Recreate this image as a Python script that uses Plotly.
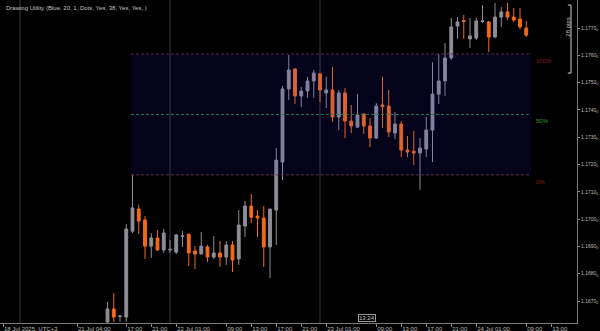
import plotly.graph_objects as go

# hours since 21 Jul 2025 00:00 (UTC+3)
hours = list(range(14, 82))
opens = [1.16623, 1.16671, 1.16643, 1.16641, 1.16956, 1.17037, 1.16997, 1.16901, 1.16931, 1.16887,
         1.16887, 1.16879, 1.16936, 1.16945, 1.16883, 1.16872, 1.16898, 1.16861, 1.16876, 1.16861,
         1.16905, 1.16854, 1.16975, 1.17048, 1.17011, 1.17004, 1.16898, 1.17033, 1.17209, 1.17477,
         1.17550, 1.17451, 1.17469, 1.17506, 1.17532, 1.17462, 1.17473, 1.17374, 1.17462, 1.17359,
         1.17337, 1.17385, 1.17341, 1.17297, 1.17418, 1.17414, 1.17315, 1.17348, 1.17253, 1.17249,
         1.17242, 1.17257, 1.17326, 1.17458, 1.17506, 1.17590, 1.17707, 1.17727, 1.17660, 1.17663,
         1.17724, 1.17722, 1.17667, 1.17740, 1.17759, 1.17740, 1.17733, 1.17700]
highs = [1.16696, 1.16729, 1.16649, 1.16982, 1.17162, 1.17052, 1.17011, 1.16949, 1.16960, 1.16964,
         1.16923, 1.16945, 1.16956, 1.16945, 1.16901, 1.16953, 1.16905, 1.16938, 1.16920, 1.16920,
         1.16920, 1.17033, 1.17066, 1.17092, 1.17033, 1.17048, 1.17037, 1.17260, 1.17488, 1.17601,
         1.17553, 1.17484, 1.17521, 1.17546, 1.17535, 1.17521, 1.17557, 1.17473, 1.17480, 1.17418,
         1.17458, 1.17389, 1.17370, 1.17425, 1.17521, 1.17473, 1.17392, 1.17359, 1.17304, 1.17323,
         1.17297, 1.17374, 1.17575, 1.17605, 1.17645, 1.17737, 1.17740, 1.17748, 1.17737, 1.17737,
         1.17784, 1.17726, 1.17792, 1.17777, 1.17792, 1.17773, 1.17773, 1.17726]
lows = [1.16620, 1.16623, 1.16623, 1.16623, 1.16949, 1.16945, 1.16854, 1.16858, 1.16884, 1.16876,
        1.16876, 1.16872, 1.16898, 1.16828, 1.16817, 1.16872, 1.16843, 1.16854, 1.16825, 1.16832,
        1.16806, 1.16832, 1.16934, 1.16986, 1.16934, 1.16825, 1.16784, 1.16905, 1.17143, 1.17436,
        1.17422, 1.17411, 1.17444, 1.17444, 1.17429, 1.17407, 1.17356, 1.17326, 1.17297, 1.17315,
        1.17334, 1.17312, 1.17264, 1.17293, 1.17334, 1.17301, 1.17293, 1.17227, 1.17227, 1.17198,
        1.17107, 1.17227, 1.17209, 1.17422, 1.17451, 1.17583, 1.17660, 1.17660, 1.17627, 1.17656,
        1.17718, 1.17612, 1.17663, 1.17704, 1.17729, 1.17722, 1.17696, 1.17667]
closes = [1.16671, 1.16641, 1.16645, 1.16964, 1.17041, 1.16993, 1.16901, 1.16931, 1.16887, 1.16949,
          1.16889, 1.16942, 1.16938, 1.16876, 1.16872, 1.16901, 1.16861, 1.16876, 1.16861, 1.16905,
          1.16850, 1.16978, 1.17048, 1.17007, 1.17004, 1.16898, 1.17037, 1.17216, 1.17477, 1.17546,
          1.17451, 1.17469, 1.17506, 1.17535, 1.17473, 1.17473, 1.17374, 1.17462, 1.17359, 1.17341,
          1.17381, 1.17341, 1.17297, 1.17414, 1.17412, 1.17319, 1.17348, 1.17253, 1.17246, 1.17242,
          1.17260, 1.17326, 1.17458, 1.17506, 1.17590, 1.17704, 1.17722, 1.17724, 1.17671, 1.17726,
          1.17726, 1.17667, 1.17740, 1.17759, 1.17740, 1.17729, 1.17704, 1.17674]

y_ticks = [1.167, 1.168, 1.169, 1.170, 1.171, 1.172, 1.173, 1.174, 1.175, 1.176, 1.177]
y_ticktext = ["1.1670<sub>0</sub>", "1.1680<sub>0</sub>", "1.1690<sub>0</sub>", "1.1700<sub>0</sub>",
              "1.1710<sub>0</sub>", "1.1720<sub>0</sub>", "1.1730<sub>0</sub>", "1.1740<sub>0</sub>",
              "1.1750<sub>0</sub>", "1.1760<sub>0</sub>", "1.1770<sub>0</sub>"]
x_ticks = [-2.72, 9.12, 17, 21, 25, 33, 37, 41, 45, 49, 57, 61, 65, 69, 73, 81, 85]
x_ticktext = ["18 Jul 2025, UTC+3", "21 Jul 04:00", "17:00", "21:00", "22 Jul 01:00", "09:00",
              "13:00", "17:00", "21:00", "23 Jul 01:00", "09:00", "13:00", "17:00", "21:00",
              "24 Jul 01:00", "09:00", "13:00"]
day_lines = [0, 24, 48]

fib_x0, fib_x1 = 17.75, 81.8
fib_top, fib_bottom = 1.17605, 1.17162
fib_mid = (fib_top + fib_bottom) / 2
fib_labels = ["100%", "50%", "0%"]

ruler_top, ruler_bottom = 1.17784, 1.17535
ruler_x = 88.16
ruler_label = "28 pips"
time_marker_x = 55.5
time_marker_label = "13:24"
title_text = "Drawing Utility (Blue, 20, 1, Dots, Yes, 38, Yes, Yes, )"

GRAY = "#8e8e96"
ORANGE = "#f26a1c"
FONT = "Liberation Sans"

fig = go.Figure()
fig.add_trace(go.Candlestick(
    x=hours, open=opens, high=highs, low=lows, close=closes,
    increasing=dict(fillcolor=GRAY, line=dict(color=GRAY, width=1)),
    decreasing=dict(fillcolor=ORANGE, line=dict(color=ORANGE, width=1)),
    whiskerwidth=0, hoverinfo="skip", showlegend=False,
))

shapes = []
for d in day_lines:
    shapes.append(dict(type="line", xref="x", yref="paper", x0=d, x1=d, y0=0, y1=1,
                       line=dict(color="#3a3a3a", width=1), layer="below"))
shapes.append(dict(type="rect", xref="x", yref="y", x0=fib_x0, x1=fib_x1, y0=fib_bottom, y1=fib_top,
                   fillcolor="rgba(40,30,255,0.1)", line=dict(width=0), layer="above"))
for lvl, col in [(fib_top, "#5a2c48"), (fib_bottom, "#5a2c48"), (fib_mid, "#2e7a52")]:
    shapes.append(dict(type="line", xref="x", yref="y", x0=fib_x0, x1=fib_x1, y0=lvl, y1=lvl,
                       line=dict(color=col, width=1, dash="3px,2px"), layer="above"))
# ruler bracket
shapes.append(dict(type="line", xref="x", yref="y", x0=ruler_x, x1=ruler_x, y0=ruler_bottom, y1=ruler_top,
                   line=dict(color="#cfcfcf", width=1)))
for yv in [ruler_top, ruler_bottom]:
    shapes.append(dict(type="line", xref="x", yref="y", x0=ruler_x - 0.5, x1=ruler_x, y0=yv, y1=yv,
                       line=dict(color="#cfcfcf", width=1)))

annotations = [
    dict(text=title_text, xref="paper", yref="paper", x=0.0, y=1.0, xanchor="left", yanchor="top",
         xshift=4, yshift=-3, showarrow=False, font=dict(family=FONT, size=6, color="#c4c4c4")),
    dict(text=ruler_label, xref="x", yref="y", x=ruler_x - 0.5, y=(ruler_top + ruler_bottom) / 2 + 0.00045,
         textangle=-90, showarrow=False, font=dict(family=FONT, size=6, color="#c4c4c4")),
    dict(text=time_marker_label, xref="x", yref="paper", x=time_marker_x, y=0, yanchor="bottom",
         yshift=1, showarrow=False, bordercolor="#9a9a9a", borderwidth=1, borderpad=0,
         bgcolor="#000000", font=dict(family=FONT, size=6, color="#c4c4c4")),
]
for lbl, lvl, col in zip(fib_labels, [fib_top, fib_mid, fib_bottom], ["#8e1e1e", "#2fa02f", "#8e1e1e"]):
    annotations.append(dict(text=lbl, xref="x", yref="y", x=fib_x1 + 0.5, y=lvl, xanchor="left",
                            yanchor="top", yshift=-2, showarrow=False,
                            font=dict(family=FONT, size=6, color=col)))

fig.update_layout(
    width=600, height=331,
    margin=dict(l=0, r=23, t=0, b=8, autoexpand=False),
    paper_bgcolor="#000000", plot_bgcolor="#000000",
    showlegend=False, boxgap=0.35,
    shapes=shapes, annotations=annotations,
    xaxis=dict(range=[-3.2, 89.12], showgrid=False, zeroline=False, rangeslider=dict(visible=False),
               showline=True, linecolor="#7a7a7a", linewidth=1, automargin=False,
               ticks="outside", ticklen=3, tickcolor="#8a8a8a", tickangle=0,
               tickvals=x_ticks, ticktext=x_ticktext, ticklabelposition="outside right",
               ticklabelstandoff=0,
               tickfont=dict(family=FONT, size=6, color="#bdbdbd"), fixedrange=True),
    yaxis=dict(range=[1.166194, 1.178026], side="right", showgrid=False, zeroline=False,
               showline=True, linecolor="#7a7a7a", linewidth=1, automargin=False,
               ticks="outside", ticklen=2, tickcolor="#8a8a8a", ticklabelstandoff=0,
               tickvals=y_ticks, ticktext=y_ticktext,
               tickfont=dict(family=FONT, size=5, color="#bdbdbd"), fixedrange=True),
)

fig.write_html("out.html")
